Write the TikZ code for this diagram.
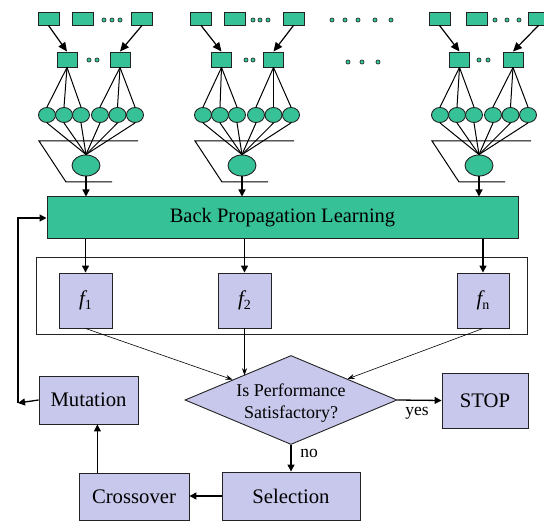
\documentclass[tikz,border=0pt]{standalone}
\usepackage{fontspec}
\setmainfont{Liberation Serif}
\usetikzlibrary{shapes.geometric,arrows.meta,calc}

\definecolor{netgreen}{RGB}{54,194,150}
\definecolor{lilac}{RGB}{200,200,236}
\definecolor{edge}{RGB}{35,35,35}

\begin{document}
\begin{tikzpicture}[x=1pt,y=-1pt,
  inbox/.style={draw=edge,fill=netgreen,line width=0.9pt,inner sep=0,minimum width=21pt,minimum height=13pt},
  hidbox/.style={inbox,minimum width=20pt,minimum height=15pt},
  neuron/.style={ellipse,draw=edge,fill=netgreen,line width=0.9pt,inner sep=0,minimum width=17pt,minimum height=15pt},
  outneuron/.style={neuron,minimum width=28pt,minimum height=21pt},
  dotmark/.style={circle,draw=edge,fill=netgreen,line width=0.6pt,inner sep=0,minimum size=4.2pt},
  stepbox/.style={draw=edge,fill=lilac,line width=0.9pt,inner sep=0,font=\fontsize{20.7}{24}\selectfont},
  wire/.style={line width=1pt},
  bigarrow/.style={line width=1.2pt,-{Triangle[length=9pt,width=8pt]}},
  flow/.style={line width=1.3pt,-{Triangle[length=7pt,width=7pt]}},
  thinflow/.style={line width=0.6pt,-{Stealth[length=7pt,width=5pt]}},
  tag/.style={inner sep=0,font=\fontsize{17.5}{20}\selectfont},
]
\path[clip] (0,0) rectangle (544,521);

% learning stage
\node[draw=edge,fill=netgreen,line width=1pt,minimum width=471pt,minimum height=42pt,
      inner sep=0,font=\fontsize{20.5}{24}\selectfont] (bpl) at (282.5,218) {Back Propagation Learning};

% the neural networks of the population
\foreach \p/\X/\A/\B/\C/\ta/\tb/\tc/\ma/\mb/\da/\db in {
    n1/86/48.5/82.5/142/104/112/120/67/120/89/97,
    n2/242/201/235/293.5/253/260/268/221.5/273.5/246/253,
    n3/479/439.5/477/538.5/495/507/519/459.5/513/479/488}{
  \node[inbox] (\p-A) at (\A,18.5) {};
  \node[inbox] (\p-B) at (\B,18.5) {};
  \node[inbox] (\p-C) at (\C,18.5) {};
  \node[dotmark] (\p-t1) at (\ta,20) {};
  \node[dotmark] (\p-t2) at (\tb,20) {};
  \node[dotmark] (\p-t3) at (\tc,20) {};
  \node[hidbox] (\p-a) at (\ma,59.5) {};
  \node[hidbox] (\p-b) at (\mb,59.5) {};
  \node[dotmark] (\p-m1) at (\da,60) {};
  \node[dotmark] (\p-m2) at (\db,60) {};
  \draw[bigarrow] (\p-A.south) -- (\p-a.north);
  \draw[bigarrow] (\p-C.south) -- (\p-b.north);
  \foreach \dx [count=\i] in {-39,-22,-5,14,31.5,49}
    \node[neuron] (\p-c\i) at (\X+\dx,115) {};
  \foreach \i in {1,2,3} \draw[wire] (\p-a.south) -- (\p-c\i.north);
  \foreach \i in {4,5,6} \draw[wire] (\p-b.south) -- (\p-c\i.north);
  \draw[wire] (\X+52,141) -- (\X-47,141) -- (\X-20,182) -- (\X+26,182);
  \node[outneuron] (\p-o) at (\X,165.5) {};
  \foreach \i in {1,...,6} \draw[wire] (\p-c\i.south) -- (\p-o.north);
  \draw[flow] (\p-o.south) -- (\p-o.south |- bpl.north);
}

% ellipsis between the networks
\foreach \x [count=\i] in {332,345,358,375,391}
  \node[dotmark] (gap-t\i) at (\x,20) {};
\foreach \x [count=\i] in {348,362,378}
  \node[dotmark] (gap-m\i) at (\x,62) {};

% fitness values
\node[draw=edge,line width=1pt,minimum width=491pt,minimum height=77pt,inner sep=0] (frame) at (281.5,296.5) {};
\node[stepbox,minimum width=53pt,minimum height=55pt] (f1) at (85.5,300.5)
  {\fontsize{21}{24}\selectfont\itshape f\raisebox{-4pt}{\upshape\fontsize{14}{14}\selectfont 1}};
\node[stepbox,minimum width=53pt,minimum height=55pt] (f2) at (244.5,300.5)
  {\fontsize{21}{24}\selectfont\itshape f\raisebox{-4pt}{\upshape\fontsize{14}{14}\selectfont 2}};
\node[stepbox,minimum width=52pt,minimum height=55pt] (fn) at (483,300.5)
  {\fontsize{21}{24}\selectfont\itshape f\raisebox{-4pt}{\upshape\fontsize{14}{14}\selectfont n}};
\foreach \f in {f1,f2,fn}
  \draw[flow] (\f.north |- bpl.south) -- (\f.north);

% genetic loop
\node[diamond,draw=edge,fill=lilac,line width=0.9pt,aspect=2.38,minimum width=212pt,minimum height=89pt,
      inner sep=0] (dia) at (291,400) {};
\node[inner sep=0,align=center,font=\fontsize{18}{22}\selectfont] (dia-text) at (291,403.5) {Is Performance\\Satisfactory?};
\node[stepbox,minimum width=86pt,minimum height=55pt] (stop) at (485,400.5) {STOP};
\node[stepbox,minimum width=138pt,minimum height=48pt] (sel) at (291,496) {Selection};
\node[stepbox,minimum width=110pt,minimum height=47pt] (cross) at (134,496.5) {Crossover};
\node[stepbox,minimum width=99pt,minimum height=48pt] (mut) at (88.5,400) {Mutation};

\coordinate (f2in) at ($(dia.west)!0.55!(dia.north)$);
\draw[thinflow] (f1.south) -- (dia);
\draw[thinflow] (f2.south) -- (f2.south |- f2in);
\draw[thinflow] (fn.south) -- (dia);

\draw[flow] (dia.east) -- (stop.west);
\node[tag] (yes) at (417,413) {yes};
\draw[flow] (dia.south) -- (sel.north);
\node[tag] (no) at (309,453) {no};
\draw[flow] (sel.west) -- (sel.west -| cross.east);
\coordinate (cm) at ($(cross.north west)!0.17!(cross.north east)$);
\draw[line width=1pt,-{Triangle[length=7pt,width=7pt]}] (cm) -- (cm |- mut.south);
\coordinate (fb) at (18,403);
\draw[flow] (mut.west) -- (fb);
\draw[flow] (fb) |- (bpl.west);
\end{tikzpicture}
\end{document}
